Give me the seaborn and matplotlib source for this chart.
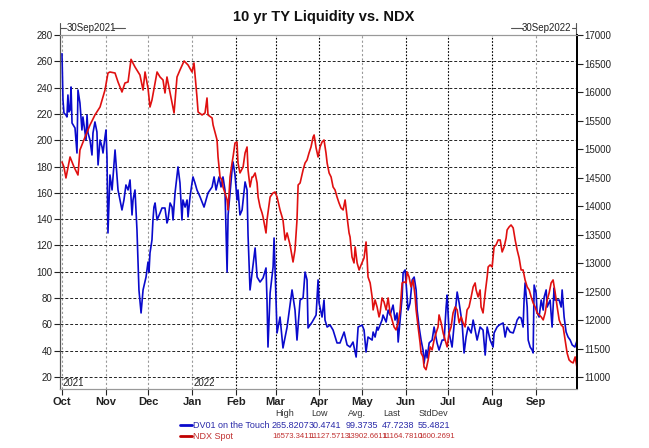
import pandas as pd
import matplotlib
matplotlib.use("Agg")
import matplotlib.pyplot as plt
from matplotlib.lines import Line2D
import seaborn as sns

start = pd.Timestamp("2021-10-01")

# DV01 on the Touch (left axis), days after 1 Oct 2021
dv01_days = [0.0, 0.7, 1.4, 2.8, 3.5, 4.2, 4.9, 5.7, 6.4, 7.1, 9.2, 10.6, 11.3, 12.7, 14.1, 14.8,
             16.3, 17.0, 17.7, 18.4, 19.8, 21.2, 21.9, 23.3, 24.7, 25.5, 26.9, 28.3, 29.0, 30.4,
             31.1, 31.8, 32.5, 33.9, 35.4, 37.5, 39.6, 41.0, 42.4, 43.8, 45.2, 46.7, 48.1, 49.5,
             50.2, 51.6, 53.0, 54.4, 55.9, 57.3, 59.4, 60.8, 61.5, 62.2, 63.6, 64.3, 65.0, 65.8,
             67.2, 69.3, 70.7, 72.8, 74.2, 74.9, 76.4, 77.8, 78.5, 79.9, 82.0, 83.4, 84.8, 85.5,
             87.0, 88.4, 89.1, 90.5, 91.9, 92.6, 94.0, 95.4, 97.6, 100.4, 103.2, 106.1, 107.5,
             108.9, 111.0, 112.4, 113.8, 115.2, 116.7, 117.4, 118.8, 120.2, 120.9, 122.3, 123.7,
             124.4, 125.8, 127.3, 129.4, 130.8, 131.5, 132.9, 136.5, 137.9, 140.0, 142.1, 144.2,
             144.9, 145.6, 147.1, 149.2, 149.9, 151.3, 152.0, 154.1, 156.2, 159.1, 162.6, 164.7,
             166.1, 168.3, 170.4, 171.8, 173.2, 173.9, 176.8, 179.6, 181.0, 181.7, 183.8, 185.2,
             185.9, 187.4, 189.5, 191.6, 194.4, 196.5, 199.4, 201.5, 203.6, 205.7, 207.9, 209.3,
             212.1, 213.5, 214.9, 216.3, 219.2, 219.9, 221.3, 222.7, 223.4, 226.2, 226.9, 229.1,
             230.5, 231.9, 234.0, 235.4, 236.8, 237.6, 239.0, 240.4, 241.1, 242.5, 243.9, 244.6,
             246.0, 247.5, 248.9, 250.3, 251.0, 252.4, 253.8, 255.2, 255.9, 257.3, 258.1, 259.5,
             261.6, 263.0, 265.1, 266.5, 268.7, 270.1, 271.5, 272.2, 273.6, 275.7, 277.9, 279.3,
             280.7, 282.8, 284.2, 285.6, 287.0, 289.2, 290.6, 293.4, 295.5, 297.6, 299.1, 300.5,
             302.6, 304.7, 305.4, 307.5, 309.0, 311.8, 313.2, 314.6, 316.7, 318.9, 320.3, 321.7,
             323.1, 324.5, 325.9, 326.6, 327.3, 328.8, 329.5, 330.9, 332.3, 333.0, 333.7, 335.1,
             335.8, 337.2, 338.7, 340.1, 340.8, 342.2, 342.9, 345.0, 346.4, 347.8, 348.5, 350.0,
             351.4, 352.8, 353.5, 354.9, 356.3, 357.7, 359.2, 360.6, 362.5, 364.0]
dv01_vals = [265.8, 230.6, 220.7, 219.2, 217.7, 234.4, 221.5, 223.0, 240.5, 213.1, 209.3, 190.3,
             238.2, 228.3, 207.8, 217.7, 205.5, 200.2, 219.2, 205.5, 200.2, 188.8, 205.5, 213.9,
             206.3, 181.2, 200.2, 194.9, 190.3, 202.5, 207.8, 187.3, 129.5, 173.6, 162.2, 192.6,
             162.2, 154.6, 147.0, 154.6, 166.0, 162.2, 169.8, 143.2, 154.6, 162.2, 131.8, 86.2,
             68.7, 86.2, 96.0, 107.4, 99.8, 114.3, 124.2, 139.4, 149.2, 152.3, 139.4, 144.7, 148.5,
             148.5, 137.1, 139.4, 152.3, 149.2, 139.4, 159.9, 179.7, 167.5, 139.4, 154.6, 149.2,
             154.6, 141.7, 156.9, 167.5, 172.1, 167.5, 162.2, 156.9, 149.2, 159.9, 164.5, 172.1,
             162.2, 172.1, 164.5, 172.1, 162.2, 99.8, 143.2, 159.9, 177.4, 183.5, 173.6, 154.6,
             162.2, 143.2, 147.0, 168.3, 162.2, 128.0, 86.2, 118.1, 96.0, 92.2, 95.3, 102.9, 78.5,
             42.8, 83.9, 103.6, 125.7, 76.3, 53.5, 65.6, 42.1, 58.0, 86.2, 70.9, 48.1, 78.5, 80.1,
             99.8, 93.8, 57.3, 61.8, 67.1, 93.8, 76.3, 65.6, 78.5, 63.3, 58.0, 59.5, 55.7, 45.9,
             45.9, 54.2, 44.4, 42.8, 46.6, 35.2, 58.0, 59.5, 55.7, 39.0, 50.4, 48.1, 54.2, 50.4,
             58.0, 55.7, 63.3, 67.1, 61.8, 70.9, 67.1, 74.7, 63.3, 68.7, 46.6, 63.3, 80.8, 99.1,
             101.4, 80.8, 70.9, 76.3, 93.8, 96.0, 86.2, 70.9, 58.0, 48.1, 40.5, 30.5, 40.5, 34.5,
             45.9, 48.1, 58.0, 45.9, 40.5, 48.1, 48.1, 73.2, 82.3, 53.5, 42.8, 68.7, 84.6, 76.3,
             61.1, 38.3, 50.4, 58.0, 53.5, 63.3, 48.1, 58.0, 55.7, 36.7, 58.0, 48.1, 42.8, 53.5,
             58.0, 59.5, 61.1, 50.4, 58.0, 54.2, 53.5, 58.0, 63.3, 65.6, 64.9, 58.0, 78.5, 91.5,
             73.2, 48.1, 42.8, 40.5, 38.3, 89.9, 83.9, 68.7, 65.6, 78.5, 70.9, 80.8, 86.2, 73.2,
             78.5, 58.0, 87.7, 78.5, 78.5, 78.5, 73.2, 86.2, 65.6, 54.2, 50.4, 48.1, 44.4, 42.8,
             47.7]

# NDX Spot (right axis)
ndx_days = [0.0, 1.4, 2.8, 5.7, 8.5, 11.3, 12.7, 16.3, 19.8, 23.3, 26.9, 30.4, 32.5, 33.9, 37.5,
            39.6, 42.4, 44.5, 46.7, 48.8, 51.6, 55.1, 57.3, 58.7, 60.8, 62.2, 63.6, 65.8, 67.2,
            69.3, 71.4, 72.8, 74.2, 76.4, 79.2, 81.3, 83.4, 86.3, 89.1, 91.9, 93.3, 95.4, 96.2,
            99.0, 101.1, 102.5, 103.2, 106.1, 106.8, 109.6, 110.3, 111.7, 113.1, 113.8, 115.2,
            116.7, 117.4, 118.8, 120.2, 120.9, 122.3, 123.7, 124.4, 125.8, 128.0, 129.4, 130.8,
            131.5, 132.9, 134.3, 135.0, 136.5, 137.9, 138.6, 140.0, 141.4, 142.1, 144.2, 144.9,
            147.1, 149.2, 150.6, 152.0, 154.1, 156.2, 157.7, 159.1, 161.2, 163.3, 164.7, 166.1,
            166.9, 168.3, 170.4, 171.8, 173.2, 174.6, 176.0, 177.5, 178.2, 179.6, 181.0, 182.4,
            183.8, 185.2, 186.6, 187.4, 188.8, 190.2, 191.6, 193.0, 194.4, 195.8, 197.2, 198.7,
            200.1, 201.5, 202.9, 203.6, 205.0, 206.4, 207.2, 208.6, 210.0, 211.4, 213.5, 214.9,
            215.6, 216.3, 217.8, 219.2, 219.9, 221.3, 222.7, 224.1, 224.8, 226.2, 227.6, 229.1,
            230.5, 231.9, 233.3, 234.7, 236.1, 237.6, 239.0, 240.4, 241.8, 243.2, 243.9, 245.3,
            246.7, 248.2, 249.6, 250.3, 251.7, 253.1, 253.8, 255.2, 255.9, 257.3, 258.8, 260.2,
            261.6, 263.0, 264.4, 265.8, 266.5, 268.0, 269.4, 270.8, 272.2, 273.6, 275.0, 276.4,
            277.9, 279.3, 280.7, 282.1, 283.5, 284.9, 286.3, 287.7, 289.2, 290.6, 292.0, 292.7,
            294.1, 295.5, 296.2, 297.6, 299.1, 300.5, 301.2, 302.6, 304.0, 305.4, 306.8, 308.3,
            309.7, 311.1, 312.5, 313.9, 314.6, 316.0, 317.4, 318.9, 320.3, 321.7, 323.1, 324.5,
            325.9, 327.3, 328.8, 330.2, 331.6, 333.0, 334.4, 335.8, 337.2, 338.7, 340.1, 341.5,
            342.9, 344.3, 345.7, 347.1, 348.6, 350.0, 351.4, 352.8, 354.2, 355.6, 357.0, 358.4,
            359.9, 361.3, 362.7, 364.0]
ndx_vals = [14772, 14685, 14492, 14860, 14685, 14544, 14983, 15211, 15421, 15597, 15737, 16035,
            16333, 16351, 16333, 16176, 16000, 16158, 16176, 16573, 16439, 16298, 16035, 16351,
            16070, 15737, 15860, 16158, 16351, 16263, 16211, 15983, 16263, 15983, 15632, 16263,
            16386, 16544, 16474, 16351, 16509, 15913, 15649, 15597, 15632, 15895, 15597, 15544,
            15421, 15158, 14860, 14509, 14457, 14334, 14229, 14106, 13931, 14509, 14755, 14860,
            15106, 15123, 14755, 14580, 14685, 14930, 15035, 14632, 14334, 14509, 14509, 14579,
            14404, 14158, 13983, 13878, 13808, 13527, 13755, 14158, 14229, 14246, 14158, 13931,
            13755, 13404, 13527, 13317, 13018, 13229, 13755, 14369, 14404, 14632, 14755, 14807,
            14930, 15035, 15211, 15246, 15018, 14860, 15035, 15123, 15158, 14930, 14755, 14579,
            14509, 14334, 14281, 14158, 14053, 13966, 13931, 14106, 13808, 13527, 13457, 13106,
            13001, 13282, 13001, 12878, 12966, 13089, 13369, 13106, 12755, 12650, 12405, 12177,
            12352, 12229, 12054, 12124, 12387, 12317, 12177, 12387, 12124, 12001, 11878, 11826,
            11949, 12177, 12650, 12668, 12650, 12843, 12755, 12580, 12703, 12405, 12177, 11878,
            11598, 11422, 11352, 11177, 11127.6, 11300, 11528, 11475, 11650, 11773, 11878, 12089,
            11949, 11773, 11650, 11528, 11773, 11878, 12124, 12229, 12177, 11949, 12054, 11949,
            11878, 12177, 12229, 12405, 12580, 12650, 12527, 12405, 12527, 12229, 12124, 12474,
            12755, 12931, 12966, 12931, 13282, 13317, 13404, 13404, 13194, 13282, 13439, 13580,
            13632, 13667, 13615, 13404, 13229, 13089, 12878, 12878, 12703, 12580, 12527, 12405,
            12299, 12229, 12124, 12089, 12054, 12001, 12124, 12352, 12474, 12650, 12703, 12474,
            12229, 12001, 11913, 11878, 11650, 11422, 11300, 11264, 11247, 11352, 11164.8]

months = ["Oct", "Nov", "Dec", "Jan", "Feb", "Mar", "Apr", "May", "Jun", "Jul", "Aug", "Sep"]
stat_names = ["High", "Low", "Avg.", "Last", "StdDev"]
dv01_stats = ["265.8207", "30.4741", "99.3735", "47.7238", "55.4821"]
ndx_stats = ["16573.3411", "11127.5713", "13902.6611", "11164.7810", "1600.2691"]

dv01 = pd.DataFrame({"date": start + pd.to_timedelta(dv01_days, unit="D"), "value": dv01_vals})
ndx = pd.DataFrame({"date": start + pd.to_timedelta(ndx_days, unit="D"), "value": ndx_vals})
month_starts = pd.date_range("2021-10-01", periods=12, freq="MS")

sns.set_style("white")
plt.rcParams["font.family"] = ["Liberation Sans", "DejaVu Sans"]

W, H = 649, 448
fig = plt.figure(figsize=(W / 100, H / 100), dpi=100)
ax = fig.add_axes([60 / W, 1 - 389 / H, 517 / W, 354 / H])
ax2 = ax.twinx()

# grid
dark_months = {"Feb", "Mar", "Apr", "Jun", "Jul", "Aug"}
for m, d in zip(months, month_starts):
    if m in dark_months:
        ax.axvline(d, color="black", lw=0.8, ls=(0, (1.5, 1.5)), zorder=0)
    else:
        ax.axvline(d, color="#999999", lw=0.8, ls=(0, (2, 2)), zorder=0)
for v in range(20, 281, 20):
    ax.axhline(v, color="#222222", lw=0.7, ls=(0, (3, 2)), zorder=0)

sns.lineplot(data=dv01, x="date", y="value", ax=ax, color="#0a0acc", lw=1.2, estimator=None)
sns.lineplot(data=ndx, x="date", y="value", ax=ax2, color="#e01010", lw=1.2, estimator=None)

ax.set_xlim(start - pd.Timedelta(days=1.4), start + pd.Timedelta(days=364))
ax.set_ylim(10.9, 280)
ax2.set_ylim(10789.5, 17000)
ax.set_yticks(range(20, 281, 20))
ax2.set_yticks(range(11000, 17001, 500))
ax.set_xticks(month_starts)
ax.set_xticklabels(months, fontsize=8, fontweight="bold", color="#222222")
ax.set_xlabel("")
ax.set_ylabel("")
ax2.set_ylabel("")
ax.tick_params(axis="y", direction="out", length=4, width=0.8, pad=1.5, labelsize=7,
               colors="#222222", left=True)
ax2.tick_params(axis="y", direction="out", length=4, width=0.8, pad=1.5, labelsize=7,
                colors="#222222", right=True)
ax.tick_params(axis="x", direction="out", length=4, width=0.8, pad=2, bottom=True)

for a in (ax, ax2):
    a.spines["top"].set_color("#999999")
    a.spines["bottom"].set_color("#999999")
    a.spines["left"].set_color("#555555")
    a.spines["right"].set_color("black")
    a.spines["right"].set_linewidth(1.3)
    a.spines["left"].set_linewidth(0.8)
    a.spines["top"].set_linewidth(0.8)

xt = ax.get_xaxis_transform()
ax.text(start + pd.Timedelta(days=0.6), 0.018, "2021", transform=xt, fontsize=7, va="center", color="#222222")
ax.text(pd.Timestamp("2022-01-02"), 0.018, "2022", transform=xt, fontsize=7, va="center", color="#222222")

# date range brackets above the plot
ta = ax.transAxes
yb = 1.02
ax.plot([0, 0], [1.0, 1.035], transform=ta, color="#555555", lw=0.8, clip_on=False)
ax.plot([0, 0.012], [yb, yb], transform=ta, color="#555555", lw=0.8, clip_on=False)
ax.text(0.013, yb, "30Sep2021", transform=ta, fontsize=7, va="center", ha="left", color="#222222")
ax.plot([0.103, 0.126], [yb, yb], transform=ta, color="#555555", lw=0.8, clip_on=False)
ax.plot([0.999, 0.999], [1.0, 1.035], transform=ta, color="#555555", lw=0.8, clip_on=False)
ax.plot([0.99, 0.999], [yb, yb], transform=ta, color="#555555", lw=0.8, clip_on=False)
ax.text(0.988, yb, "30Sep2022", transform=ta, fontsize=7, va="center", ha="right", color="#222222")
ax.plot([0.872, 0.895], [yb, yb], transform=ta, color="#555555", lw=0.8, clip_on=False)

fig.text(324 / W, 1 - 17 / H, "10 yr TY Liquidity vs. NDX", ha="center", va="center",
         fontsize=10.5, fontweight="bold", color="#111111")

# stats table under the chart
col_x = [272, 309, 346, 382, 418]
head_x = [275, 311, 348, 383, 419]
for name, x in zip(stat_names, head_x):
    fig.text(x / W, 1 - 413 / H, name, fontsize=6.5, color="#333333", va="center")
rows = [("DV01 on the Touch", dv01_stats, "#0a0acc", "#2a2aa8", 425, 6.5),
        ("NDX Spot", ndx_stats, "#c00000", "#c03030", 436, 5.6)]
for label, stats, lc, tc, y, fs in rows:
    fig.add_artist(Line2D([180 / W, 192 / W], [1 - y / H, 1 - y / H], color=lc, lw=2,
                          transform=fig.transFigure))
    fig.text(193 / W, 1 - y / H, label, fontsize=6.5, color=tc, va="center")
    for s, x in zip(stats, col_x):
        fig.text(x / W, 1 - y / H, s, fontsize=fs, color=tc, va="center")

fig.savefig("out.png", dpi=100)
